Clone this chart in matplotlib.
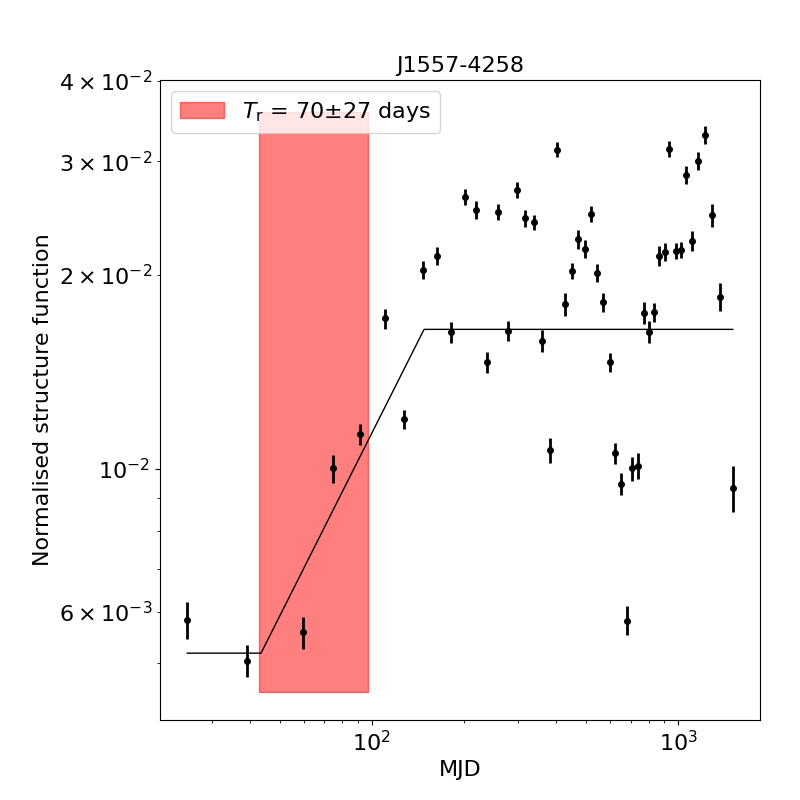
import matplotlib
matplotlib.use("Agg")
import matplotlib.pyplot as plt
import numpy as np

# structure function points
lag = [25.0, 39.2, 59.7, 74.6, 91.4, 110.2, 127.4, 146.6, 162.8, 180.8,
       200.9, 218.2, 237.4, 257.2, 277.8, 296.6, 315.6, 337.9, 358.7, 380.0,
       400.6, 426.2, 449.1, 469.9, 495.3, 518.1, 540.7, 566.8, 597.3, 618.7,
       648.6, 678.5, 708.0, 736.4, 770.9, 800.0, 830.8, 866.5, 901.9, 934.8,
       980.0, 1017.4, 1056.4, 1105.0, 1155.7, 1218.0, 1283.8, 1363.0, 1503.0]
sf = [0.00583, 0.00504, 0.00558, 0.01002, 0.01131, 0.01712, 0.01194, 0.02033, 0.02139, 0.01629,
      0.02645, 0.02525, 0.01463, 0.02507, 0.01637, 0.02712, 0.02448, 0.02411, 0.01580, 0.01069,
      0.03126, 0.01802, 0.02026, 0.02270, 0.02191, 0.02489, 0.02012, 0.01815, 0.01463, 0.01057,
      0.00947, 0.00582, 0.01002, 0.01011, 0.01747, 0.01633, 0.01751, 0.02139, 0.02170, 0.03137,
      0.02176, 0.02183, 0.02860, 0.02256, 0.03006, 0.03297, 0.02472, 0.01849, 0.00934]
sf_err = [0.00039, 0.00029, 0.00032, 0.00050, 0.00042, 0.00061, 0.00042, 0.00065, 0.00068, 0.00061,
          0.00075, 0.00081, 0.00055, 0.00071, 0.00058, 0.00077, 0.00074, 0.00068, 0.00062, 0.00046,
          0.00083, 0.00074, 0.00058, 0.00073, 0.00070, 0.00071, 0.00064, 0.00061, 0.00049, 0.00041,
          0.00037, 0.00030, 0.00043, 0.00048, 0.00068, 0.00064, 0.00059, 0.00076, 0.00069, 0.00089,
          0.00062, 0.00062, 0.00091, 0.00080, 0.00096, 0.00105, 0.00100, 0.00092, 0.00078]

# broken power-law model knots
model_lag = [25.0, 43.5, 148.0, 1503.0]
model_sf = [0.00518, 0.00518, 0.01646, 0.01646]

t_r = 70
t_r_err = 27

lag = np.array(lag)
sf = np.array(sf)
sf_err = np.array(sf_err)

fig = plt.figure(figsize=(8, 8), dpi=100)
ax = fig.add_subplot(111)
fig.subplots_adjust(left=0.2, right=0.95, top=0.9, bottom=0.1)

ax.errorbar(lag, sf, yerr=sf_err, fmt='k.', elinewidth=2, markersize=8)
ax.plot(model_lag, model_sf, 'k-', lw=1)

lo = np.min(sf - sf_err) * 0.95
hi = np.max(sf + sf_err) * 1.05
ax.fill_betweenx([lo, hi], t_r - t_r_err, t_r + t_r_err, color='red', alpha=0.5,
                 label=r'$T_{\rm r}$ = %d$\pm$%d days' % (t_r, t_r_err))

ax.set_xscale('log')
ax.set_yscale('log')
ax.set_ylim(0.00408, 0.0401)
ax.set_xlabel('MJD', fontsize=16)
ax.set_ylabel('Normalised structure function', fontsize=16)
ax.set_title('J1557-4258', fontsize=16)
ax.tick_params(axis='both', which='both', labelsize=16)
ax.legend(loc='upper left', fontsize=16)

fig.savefig('out.png')
